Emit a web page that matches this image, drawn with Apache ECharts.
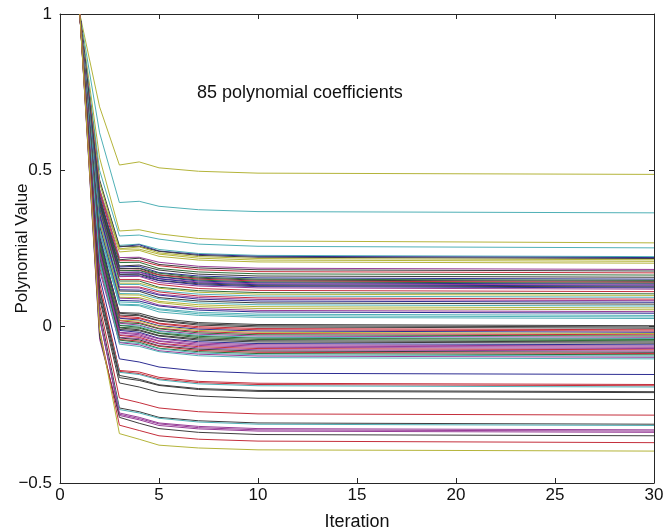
<!DOCTYPE html>
<html>
<head>
<meta charset="utf-8">
<script src="https://cdn.jsdelivr.net/npm/echarts@6/dist/echarts.min.js"></script>
<style>
html,body{margin:0;padding:0;background:#fff;}
#chart{width:666px;height:531px;}
</style>
</head>
<body>
<div id="chart"></div>
<script>
// ---- data ----
const iterations = [1, 2, 3, 4, 5, 7, 10, 30];
const startValue = 1;
const iter2 = [0.703,0.620,0.540,0.500,0.460,0.430,0.470,0.440,0.460,0.420,
0.440,0.400,0.430,0.410,0.390,0.420,0.380,0.410,0.370,0.400,
0.390,0.360,0.380,0.400,0.350,0.380,0.360,0.380,0.340,0.360,
0.330,0.350,0.360,0.320,0.340,0.310,0.330,0.300,0.320,0.310,
0.290,0.310,0.280,0.260,0.290,0.270,0.250,0.280,0.260,0.240,
0.270,0.250,0.230,0.260,0.240,0.220,0.250,0.230,0.210,0.240,
0.220,0.200,0.230,0.210,0.190,0.220,0.200,0.180,0.210,0.160,
0.120,0.140,0.110,0.120,0.100,0.090,0.070,0.050,0.020,0.030,
-0.040,0.030,-0.030,-0.010,-0.010];
const iter3 = [0.517,0.397,0.306,0.290,0.260,0.255,0.257,0.249,0.248,0.239,
0.221,0.214,0.211,0.205,0.194,0.191,0.185,0.186,0.180,0.179,
0.173,0.174,0.168,0.167,0.162,0.160,0.151,0.146,0.139,0.135,
0.127,0.125,0.118,0.114,0.106,0.102,0.094,0.091,0.084,0.079,
0.072,0.069,0.045,0.043,0.037,0.034,0.028,0.027,0.021,0.019,
0.013,0.011,0.005,0.004,-0.002,-0.004,-0.009,-0.012,-0.018,-0.020,
-0.026,-0.028,-0.034,-0.036,-0.041,-0.043,-0.049,-0.051,-0.056,-0.103,
-0.140,-0.143,-0.146,-0.156,-0.163,-0.180,-0.228,-0.260,-0.265,-0.276,
-0.280,-0.284,-0.290,-0.315,-0.342];
const iter4 = [0.527,0.401,0.310,0.293,0.264,0.262,0.257,0.255,0.248,0.244,
0.222,0.219,0.211,0.206,0.197,0.193,0.187,0.186,0.181,0.180,
0.175,0.174,0.169,0.168,0.163,0.161,0.151,0.146,0.139,0.135,
0.127,0.124,0.117,0.113,0.105,0.101,0.093,0.089,0.082,0.077,
0.070,0.067,0.043,0.038,0.035,0.029,0.026,0.021,0.018,0.013,
0.010,0.005,0.002,-0.002,-0.005,-0.010,-0.013,-0.018,-0.022,-0.026,
-0.030,-0.034,-0.038,-0.042,-0.046,-0.050,-0.054,-0.058,-0.063,-0.113,
-0.145,-0.150,-0.153,-0.168,-0.172,-0.193,-0.243,-0.272,-0.276,-0.290,
-0.294,-0.298,-0.309,-0.332,-0.360];
const iter5 = [0.508,0.385,0.297,0.280,0.247,0.242,0.241,0.236,0.232,0.225,
0.206,0.199,0.195,0.186,0.181,0.173,0.171,0.166,0.165,0.160,
0.159,0.154,0.153,0.148,0.147,0.141,0.135,0.126,0.123,0.115,
0.111,0.104,0.101,0.093,0.089,0.081,0.077,0.069,0.066,0.057,
0.054,0.047,0.026,0.020,0.018,0.011,0.009,0.003,0.001,-0.005,
-0.007,-0.013,-0.015,-0.020,-0.022,-0.028,-0.030,-0.037,-0.039,-0.045,
-0.047,-0.053,-0.055,-0.061,-0.063,-0.069,-0.071,-0.077,-0.080,-0.129,
-0.162,-0.167,-0.170,-0.186,-0.188,-0.210,-0.260,-0.290,-0.293,-0.308,
-0.311,-0.316,-0.326,-0.349,-0.379];
const iter7 = [0.497,0.374,0.282,0.264,0.234,0.231,0.228,0.224,0.219,0.213,
0.193,0.188,0.182,0.175,0.168,0.162,0.158,0.155,0.152,0.149,
0.146,0.143,0.140,0.137,0.134,0.130,0.122,0.115,0.110,0.104,
0.098,0.093,0.088,0.082,0.076,0.070,0.064,0.058,0.053,0.046,
0.041,0.036,0.013,0.009,0.005,0.000,-0.004,-0.008,-0.012,-0.016,
-0.020,-0.024,-0.028,-0.031,-0.035,-0.039,-0.043,-0.048,-0.052,-0.056,
-0.060,-0.064,-0.068,-0.072,-0.076,-0.080,-0.084,-0.088,-0.093,-0.142,
-0.175,-0.179,-0.183,-0.198,-0.201,-0.222,-0.272,-0.301,-0.305,-0.319,
-0.323,-0.327,-0.338,-0.360,-0.388];
const iter10 = [0.491,0.368,0.274,0.257,0.228,0.225,0.222,0.218,0.213,0.207,
0.187,0.182,0.176,0.169,0.162,0.156,0.152,0.149,0.146,0.143,
0.140,0.137,0.134,0.131,0.128,0.124,0.116,0.109,0.104,0.098,
0.092,0.087,0.082,0.076,0.070,0.064,0.058,0.052,0.047,0.040,
0.035,0.030,0.007,0.003,-0.001,-0.006,-0.010,-0.014,-0.018,-0.022,
-0.026,-0.030,-0.034,-0.037,-0.041,-0.045,-0.049,-0.054,-0.058,-0.062,
-0.066,-0.070,-0.074,-0.078,-0.082,-0.086,-0.090,-0.094,-0.099,-0.149,
-0.181,-0.185,-0.189,-0.204,-0.207,-0.229,-0.279,-0.308,-0.312,-0.326,
-0.330,-0.334,-0.345,-0.366,-0.394];
const iter30 = [0.487,0.364,0.268,0.252,0.224,0.221,0.218,0.214,0.209,0.203,
0.183,0.178,0.172,0.165,0.158,0.152,0.148,0.145,0.142,0.139,
0.136,0.133,0.130,0.127,0.124,0.120,0.112,0.105,0.100,0.094,
0.088,0.083,0.078,0.072,0.066,0.060,0.054,0.048,0.043,0.036,
0.031,0.026,0.003,-0.001,-0.005,-0.010,-0.014,-0.018,-0.022,-0.026,
-0.030,-0.034,-0.038,-0.041,-0.045,-0.049,-0.053,-0.058,-0.062,-0.066,
-0.070,-0.074,-0.078,-0.082,-0.086,-0.090,-0.094,-0.098,-0.103,-0.153,
-0.185,-0.189,-0.193,-0.208,-0.211,-0.233,-0.283,-0.312,-0.316,-0.330,
-0.334,-0.338,-0.349,-0.371,-0.398];
const xTicks = [0, 5, 10, 15, 20, 25, 30];
const yTicks = [-0.5, 0, 0.5, 1];
const xLabel = 'Iteration';
const yLabel = 'Polynomial Value';
const note = '85 polynomial coefficients';

// ---- styles ----
const colorCodes = 'ycyccbkyyymkrgkbgkrgbmbkbmrgycrmbkcyymbccckkkrrbyrgmcggkkbmmmrmkrgcmcbrrckkkrkcmmmkry';
const palette = {b:'#2d2d92', g:'#2f6e3a', r:'#c42f3c', c:'#4fb0b6', m:'#973d97', y:'#b4b43a', k:'#3d3d3d'};

const columns = [iter2, iter3, iter4, iter5, iter7, iter10, iter30];
const series = [];
for (let i = 0; i < iter30.length; i++) {
  const data = [[iterations[0], startValue]];
  for (let j = 0; j < columns.length; j++) data.push([iterations[j + 1], columns[j][i]]);
  series.push({
    type: 'line', data: data, showSymbol: false, symbol: 'none', silent: true,
    lineStyle: {width: 1, color: palette[colorCodes[i]]}, z: 2
  });
}

const FONT = 'Liberation Sans';
const fmtY = v => (v < 0 ? '\u2212' + Math.abs(v) : String(v));
const axisLine = {show: true, onZero: false, lineStyle: {color: '#262626', width: 1}};
const tick = {show: true, inside: true, length: 5, lineStyle: {color: '#262626', width: 1}};

const chart = echarts.init(document.getElementById('chart'), null, {renderer: 'canvas'});
chart.setOption({
  animation: false,
  backgroundColor: '#ffffff',
  title: {text: note, left: 192, top: 79, textStyle: {fontFamily: FONT, fontSize: 18, fontWeight: 'normal', color: '#111'}},
  grid: {left: 60, right: 12, top: 14, bottom: 48, containLabel: false, outerBoundsMode: 'none'},
  xAxis: [
    {type: 'value', min: xTicks[0], max: xTicks[xTicks.length - 1], interval: xTicks[1] - xTicks[0],
     name: xLabel, nameLocation: 'middle', nameGap: 30, nameMoveOverlap: false,
     nameTextStyle: {fontFamily: FONT, fontSize: 18, color: '#111'},
     axisLine: axisLine, axisTick: tick, splitLine: {show: false},
     axisLabel: {fontFamily: FONT, fontSize: 17, color: '#111', margin: 4}},
    {type: 'value', position: 'top', min: xTicks[0], max: xTicks[xTicks.length - 1], interval: xTicks[1] - xTicks[0],
     axisLine: axisLine, axisTick: tick, splitLine: {show: false}, axisLabel: {show: false}}
  ],
  yAxis: [
    {type: 'value', min: yTicks[0], max: yTicks[yTicks.length - 1], interval: yTicks[1] - yTicks[0],
     name: yLabel, nameLocation: 'middle', nameGap: 29, nameMoveOverlap: false,
     nameTextStyle: {fontFamily: FONT, fontSize: 17, color: '#111'},
     axisLine: axisLine, axisTick: tick, splitLine: {show: false},
     axisLabel: {fontFamily: FONT, fontSize: 17, color: '#111', margin: 8, formatter: fmtY}},
    {type: 'value', position: 'right', min: yTicks[0], max: yTicks[yTicks.length - 1], interval: yTicks[1] - yTicks[0],
     axisLine: axisLine, axisTick: tick, splitLine: {show: false}, axisLabel: {show: false}}
  ],
  series: series
});
</script>
</body>
</html>
